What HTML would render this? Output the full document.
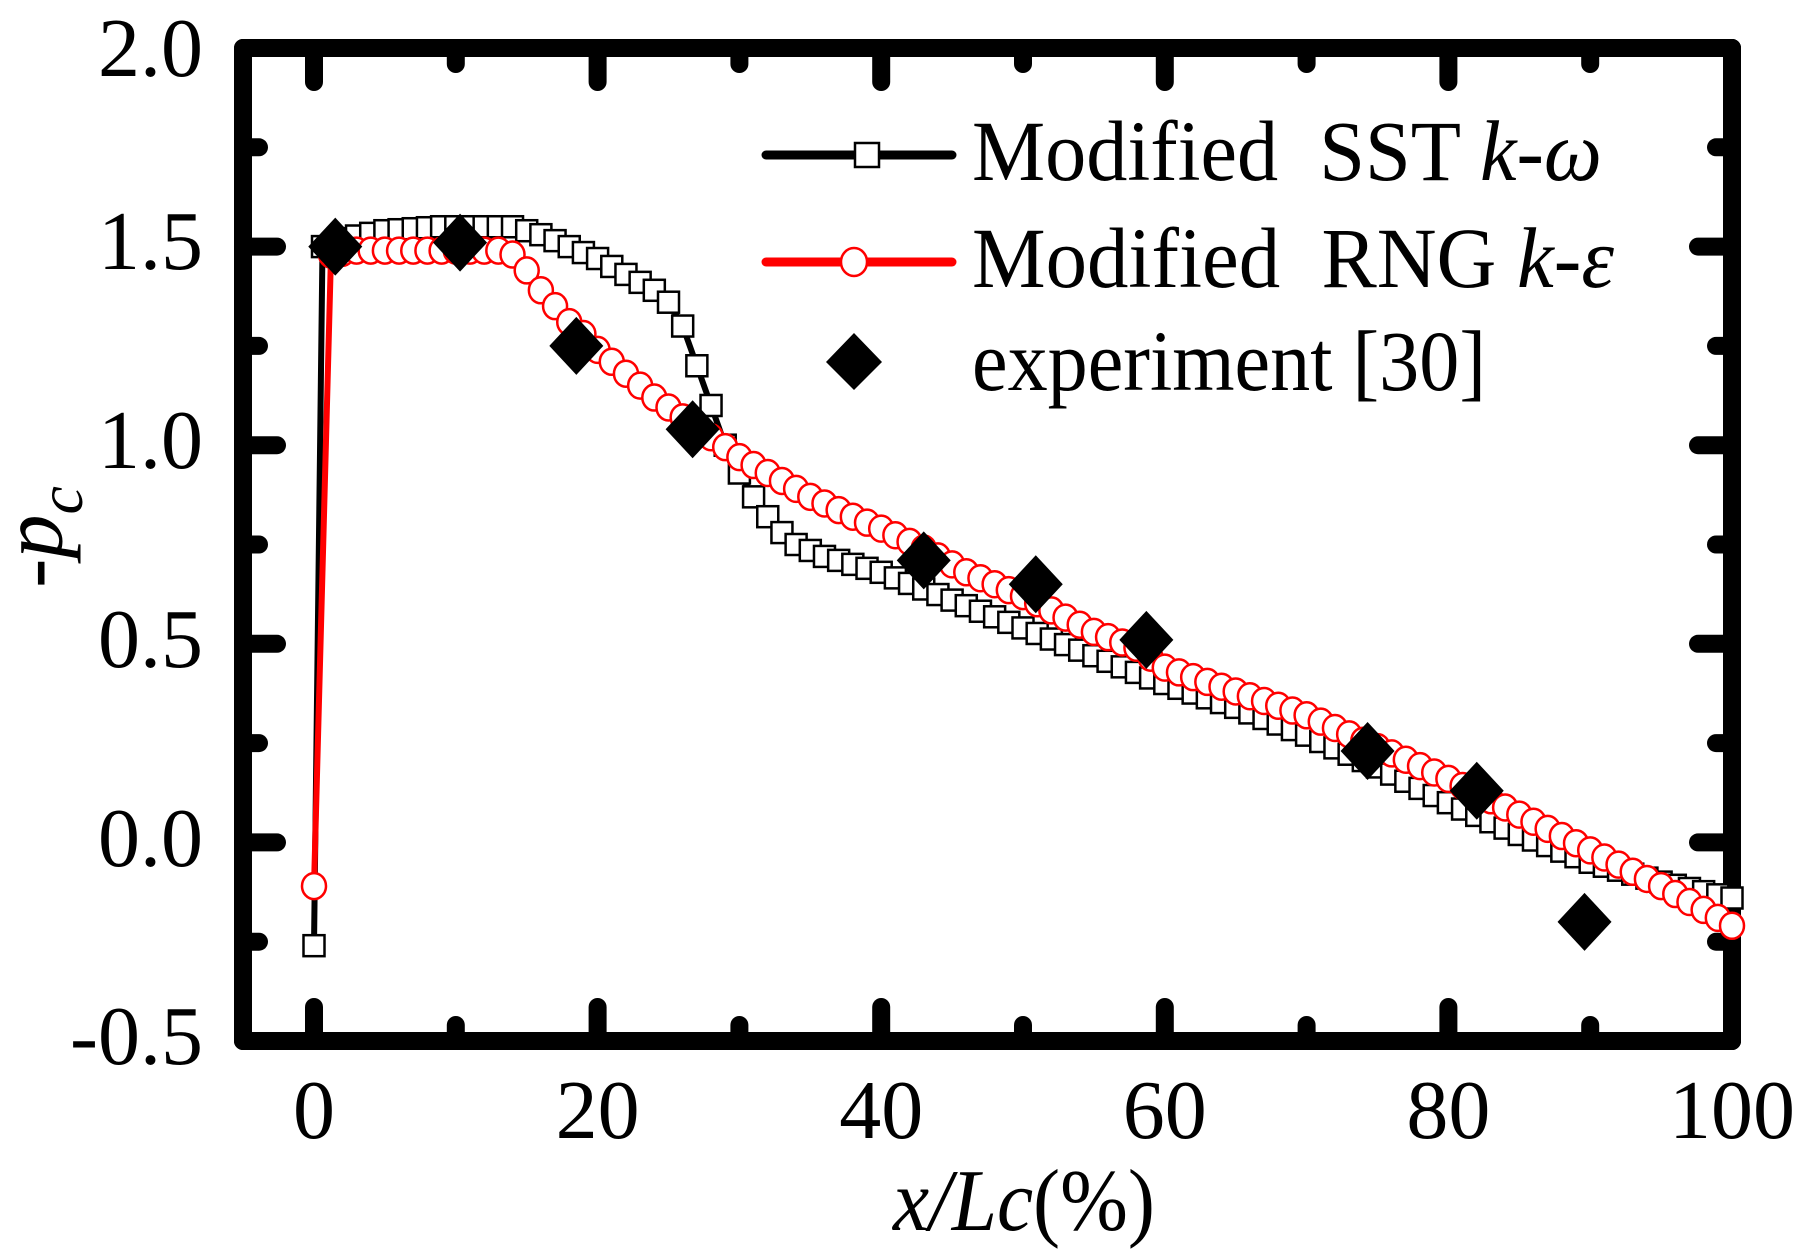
<!DOCTYPE html>
<html><head><meta charset="utf-8"><style>
html,body{margin:0;padding:0;background:#fff;}
svg{display:block;}
text{font-family:"Liberation Serif",serif;fill:#000;}
</style></head><body>
<svg id="s" width="1815" height="1258" viewBox="0 0 1815 1258" xmlns="http://www.w3.org/2000/svg">
<g id="ticks" stroke="#000" stroke-width="18" stroke-linecap="round"></g>
<rect x="243" y="48" width="1489" height="993" fill="none" stroke="#000" stroke-width="18" stroke-linejoin="round"/>
<g id="data"></g>
<g font-size="84" text-anchor="end">
<text x="203" y="76">2.0</text>
<text x="203" y="269">1.5</text>
<text x="203" y="468">1.0</text>
<text x="203" y="667">0.5</text>
<text x="203" y="866">0.0</text>
<text x="203" y="1064">-0.5</text>
</g>
<g font-size="84" text-anchor="middle">
<text x="314" y="1138">0</text>
<text x="597.6" y="1138">20</text>
<text x="881.2" y="1138">40</text>
<text x="1164.8" y="1138">60</text>
<text x="1448.4" y="1138">80</text>
<text x="1732" y="1138">100</text>
</g>
<text x="893" y="1230" font-size="88" textLength="262" lengthAdjust="spacingAndGlyphs"><tspan font-style="italic">x/Lc</tspan>(%)</text>
<text transform="translate(62,537) rotate(-90)" font-size="88" text-anchor="middle">-<tspan font-style="italic">p</tspan><tspan font-style="italic" font-size="64" dy="20">c</tspan></text>
<!-- legend -->
<line x1="766" y1="155" x2="952" y2="155" stroke="#000" stroke-width="9" stroke-linecap="round"/>
<rect x="855" y="143" width="24" height="24" fill="#fff" stroke="#000" stroke-width="2.5"/>
<line x1="766" y1="262" x2="952" y2="262" stroke="#f00" stroke-width="9" stroke-linecap="round"/>
<ellipse cx="854" cy="262" rx="13" ry="14" fill="#fff" stroke="#f00" stroke-width="2.5"/>
<polygon points="854,333 882,362 854,390 826,362" fill="#000"/>
<g font-size="86">
<text x="972" y="180" textLength="630" lengthAdjust="spacingAndGlyphs">Modified&#160; SST <tspan font-style="italic">k</tspan>-<tspan font-style="italic">ω</tspan></text>
<text x="972" y="287" textLength="642" lengthAdjust="spacingAndGlyphs">Modified&#160; RNG <tspan font-style="italic">k</tspan>-<tspan font-style="italic">ε</tspan></text>
<text x="972" y="390" textLength="514" lengthAdjust="spacingAndGlyphs">experiment [30]</text>
</g>
</svg>
<script>
(function(){
var NS="http://www.w3.org/2000/svg";
function X(v){return 314+v*14.18;}
function Y(v){return 1041-(v+0.5)*397.2;}
function el(t,a,p){var e=document.createElementNS(NS,t);for(var k in a)e.setAttribute(k,a[k]);p.appendChild(e);return e;}
var tk=document.getElementById('ticks');
for(var i=0;i<=10;i++){var v=i*10,x=X(v),L=(i%2==0)?34:16;
 el('line',{x1:x,y1:1041,x2:x,y2:1041-L},tk);el('line',{x1:x,y1:48,x2:x,y2:48+L},tk);}
for(var j=0;j<=10;j++){var v=-0.5+j*0.25,y=Y(v),L=(j%2==0)?34:16;
 el('line',{x1:243,y1:y,x2:243+L,y2:y},tk);el('line',{x1:1732,y1:y,x2:1732-L,y2:y},tk);}
function interp(pts,x){for(var i=0;i<pts.length-1;i++){if(x<=pts[i+1][0]){var a=pts[i],b=pts[i+1];return a[1]+(b[1]-a[1])*(x-a[0])/(b[0]-a[0]);}}return pts[pts.length-1][1];}
var sst=[[0,-0.26],[0.6,1.5],[2,1.52],[5,1.54],[9,1.55],[14,1.55],[16,1.53],[18,1.5],[20,1.47],[22,1.43],[24,1.39],[25,1.36],[26,1.3],[27,1.2],[28,1.1],[29,1.0],[30,0.93],[31,0.87],[32,0.82],[33,0.78],[34,0.75],[36,0.72],[40,0.68],[45,0.61],[50,0.54],[55,0.47],[60,0.40],[65,0.34],[70,0.27],[75,0.19],[80,0.10],[85,0.02],[90,-0.05],[95,-0.1],[100,-0.14]];
var rng=[[0,-0.11],[1.2,1.48],[3,1.49],[13,1.49],[14,1.48],[15,1.44],[16,1.39],[17,1.35],[18,1.31],[19,1.28],[20,1.24],[22,1.18],[24,1.12],[26,1.07],[28,1.02],[30,0.97],[32,0.93],[35,0.87],[38,0.82],[40,0.79],[43,0.74],[46,0.68],[50,0.62],[55,0.53],[58,0.49],[60,0.44],[65,0.38],[70,0.32],[75,0.24],[80,0.16],[85,0.07],[90,-0.02],[95,-0.11],[100,-0.21]];
var d=document.getElementById('data');
function series(pts,col,xs,marker){
 var xsAll=[0,pts[1][0]];for(var x=2;x<=100;x+=1)xsAll.push(x);
 var p=pts.map(function(q){return X(q[0])+','+Y(q[1]);}).join(' ');
 el('polyline',{points:p,fill:'none',stroke:col,'stroke-width':6,'stroke-linejoin':'round'},d);
 xsAll.forEach(function(x){var y=interp(pts,x);marker(X(x),Y(y));});
}
series(sst,'#000',null,function(x,y){el('rect',{x:x-10.5,y:y-10.5,width:21,height:21,fill:'#fff',stroke:'#000','stroke-width':2.5},d);});
series(rng,'#f00',null,function(x,y){el('ellipse',{cx:x,cy:y,rx:12,ry:13,fill:'#fff',stroke:'#f00','stroke-width':2.5},d);});
var ex=[[1.5,1.5],[10.3,1.51],[18.5,1.25],[26.7,1.04],[43,0.71],[50.9,0.65],[58.7,0.51],[74.3,0.23],[82,0.13],[89.6,-0.2]];
ex.forEach(function(q){var x=X(q[0]),y=Y(q[1]);el('polygon',{points:x+','+(y-29)+' '+(x+27)+','+y+' '+x+','+(y+29)+' '+(x-27)+','+y,fill:'#000'},d);});
})();
</script>
</body></html>
